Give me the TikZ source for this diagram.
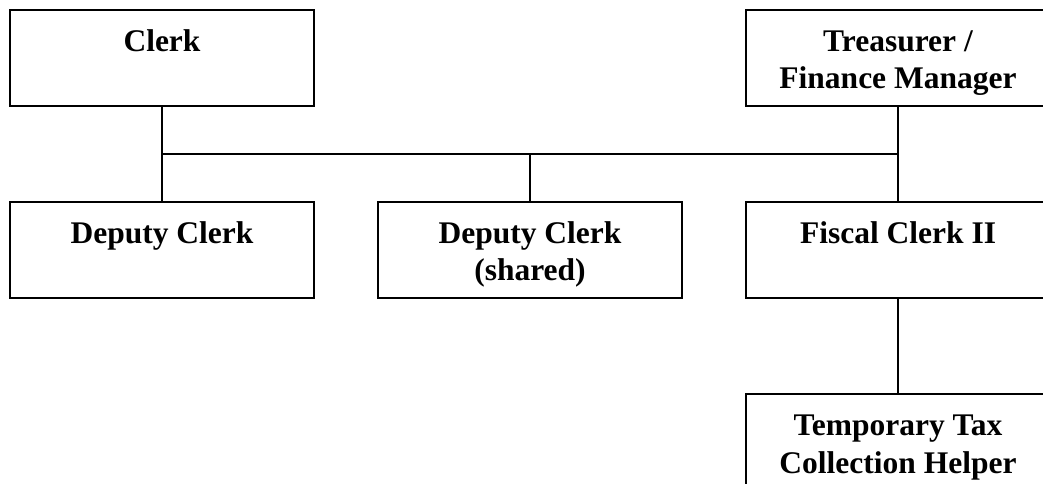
\documentclass[tikz,border=0pt]{standalone}
\usepackage{fontspec}
\setmainfont{Liberation Serif}
\begin{document}
\begin{tikzpicture}[x=1pt,y=-1pt,
  post/.style={draw=black,line width=2pt,rectangle,inner sep=0pt,
    minimum width=304pt,minimum height=96pt},
  title/.style={anchor=base,inner sep=0pt,
    font=\fontsize{31.5}{37.5}\selectfont\bfseries},
  link/.style={draw=black,line width=2pt}]
\useasboundingbox (0,0) rectangle (1043,484);

% position boxes
\node[post] (clerk)  at (162,58)    {};
\node[post] (treas)  at (898,58)    {};
\node[post] (dep)    at (162,249.5) {};
\node[post] (shared) at (530,249.5) {};
\node[post] (fiscal) at (898,249.5) {};
\node[post] (temp)   at (898,442)   {};

% titles, first baseline about 41pt below each box top
\node[title] (tclerk)  at (162,51.5)  {Clerk};
\node[title] (ttreas)  at (898,51.5)  {\begin{tabular}[t]{@{}c@{}}Treasurer /\\Finance Manager\end{tabular}};
\node[title] (tdep)    at (162,243) {Deputy Clerk};
\node[title] (tshared) at (530,243) {\begin{tabular}[t]{@{}c@{}}Deputy Clerk\\(shared)\end{tabular}};
\node[title] (tfiscal) at (898,243) {Fiscal Clerk II};
\node[title] (ttemp)   at (898,435.5) {\begin{tabular}[t]{@{}c@{}}Temporary Tax\\Collection Helper\end{tabular}};

% reporting lines
\coordinate (bus) at (0,154);
\draw[link] (clerk.south) -- (dep.north);
\draw[link] (treas.south) -- (fiscal.north);
\draw[link] (clerk.south |- bus) -- (treas.south |- bus);
\draw[link] (shared.north |- bus) -- (shared.north);
\draw[link] (fiscal.south) -- (temp.north);
\end{tikzpicture}
\end{document}
